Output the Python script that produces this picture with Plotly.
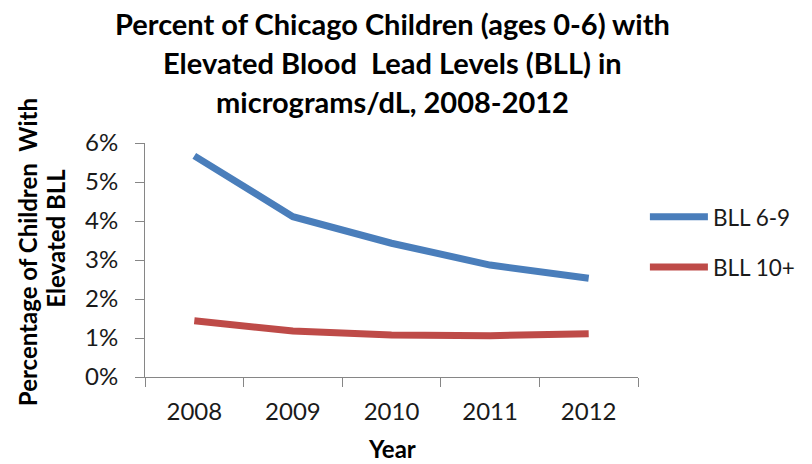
import plotly.graph_objects as go

years = ["2008", "2009", "2010", "2011", "2012"]
bll_6_9 = [5.67, 4.11, 3.43, 2.87, 2.53]
bll_10p = [1.44, 1.18, 1.08, 1.06, 1.11]
y_ticks = [0, 1, 2, 3, 4, 5, 6]
y_tick_labels = ["0%", "1%", "2%", "3%", "4%", "5%", "6%"]

FONT = "Lato"
AX = "#868686"
TXT = "#1a1a1a"

fig = go.Figure()
fig.add_trace(go.Scatter(x=years, y=bll_6_9, mode="lines", name="BLL 6-9",
                         line=dict(color="#4A7EBB", width=7), legendgroup="a"))
fig.add_trace(go.Scatter(x=years, y=bll_10p, mode="lines", name="BLL 10+",
                         line=dict(color="#BE4B48", width=7), legendgroup="b"))

W, H = 812, 464
L, R, T, B = 145, 165, 143, 87
PW, PH = W - L - R, H - T - B

fig.update_layout(
    width=W, height=H,
    margin=dict(l=L, r=R, t=T, b=B),
    paper_bgcolor="white", plot_bgcolor="white",
    font=dict(family=FONT, color=TXT, size=24),
    showlegend=True,
    legend=dict(x=1.014, y=0.775, xanchor="left", yanchor="top",
                font=dict(family=FONT, size=22.5, color=TXT),
                tracegroupgap=18, traceorder="grouped", itemwidth=58,
                borderwidth=0, bgcolor="rgba(0,0,0,0)"),
    xaxis=dict(type="category", range=[-0.5, 4.5], tickson="boundaries",
               ticks="outside", ticklen=9, tickcolor=AX, linecolor=AX,
               showline=True, linewidth=1, showgrid=False, zeroline=False,
               tickfont=dict(family=FONT, size=24, color=TXT),
               ticklabelstandoff=13),
    yaxis=dict(range=[0, 6], tickvals=y_ticks, ticktext=y_tick_labels,
               ticks="outside", ticklen=9, tickcolor=AX, linecolor=AX,
               showline=True, linewidth=1, showgrid=False, zeroline=False,
               tickfont=dict(family=FONT, size=24, color=TXT),
               ticklabelstandoff=12),
)

title_lines = ["Percent of Chicago Children (ages 0-6) with",
               "Elevated Blood  Lead Levels (BLL) in",
               "micrograms/dL, 2008-2012"]
title_y = [23, 63, 101]
for txt, yy in zip(title_lines, title_y):
    fig.add_annotation(text="<b>" + txt + "</b>", xref="paper", yref="paper",
                       x=(397 - L) / PW, y=1 + (T - yy) / PH,
                       xanchor="center", yanchor="middle", showarrow=False,
                       font=dict(family=FONT, size=29, color="#000000"))

ytitle_lines = ["Percentage of Children  With", "Elevated BLL"]
ytitle_pos = [(25, 252), (53, 238)]
for txt, (px, py) in zip(ytitle_lines, ytitle_pos):
    fig.add_annotation(text="<b>" + txt + "</b>", xref="paper", yref="paper",
                       textangle=-90, x=(px - L) / PW, y=(H - B - py) / PH,
                       xanchor="center", yanchor="middle", showarrow=False,
                       font=dict(family=FONT, size=24, color="#000000"))

fig.add_annotation(text="<b>Year</b>", xref="paper", yref="paper",
                   x=(396 - L) / PW, y=-(448 - (H - B)) / PH,
                   xanchor="center", yanchor="middle", showarrow=False,
                   font=dict(family=FONT, size=24, color="#000000"))

fig.write_html("out.html")
